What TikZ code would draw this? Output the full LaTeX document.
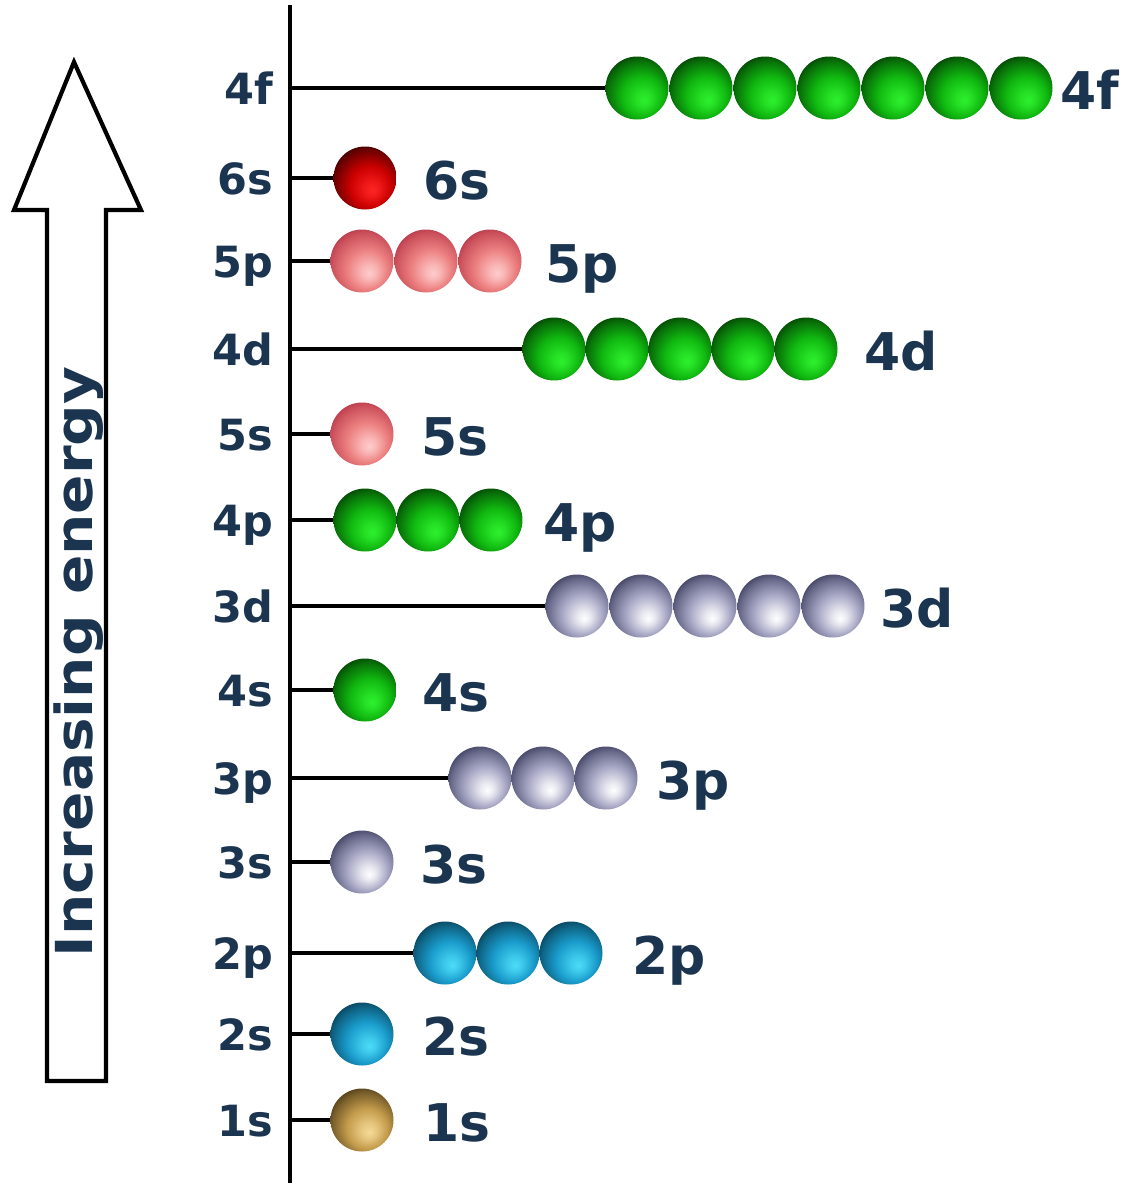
\documentclass[tikz,border=0pt]{standalone}
\usepackage{fontspec}
\setmainfont{DejaVu Sans}
\newfontfamily\vfont[FakeStretch=1.14]{DejaVu Sans}
\definecolor{txt}{HTML}{1B3550}
\definecolor{sphhi}{rgb}{1,1,1}
\definecolor{sphmid}{rgb}{0.5,0.5,0.5}
\definecolor{sphlo}{rgb}{0,0,0}
\pgfdeclareradialshading[sphhi,sphmid,sphlo]{orb}{\pgfqpoint{6bp}{-10bp}}{color(0bp)=(sphhi); color(6bp)=(sphhi!70!sphmid); color(16bp)=(sphmid); color(26bp)=(sphmid!50!sphlo); color(34bp)=(sphlo); color(50bp)=(sphlo)}
\tikzset{
  orbball/.style n args={3}{circle, inner sep=0pt, minimum size=63pt, shading=orb,
    /utils/exec={\definecolor{sphhi}{HTML}{#1}\definecolor{sphmid}{HTML}{#2}\definecolor{sphlo}{HTML}{#3}}},
  orbG/.style={orbball={2EF02E}{10B810}{012C01}},
  orbR/.style={orbball={FF2424}{CC0000}{200000}},
  orbP/.style={orbball={FFCCCC}{EC8080}{B02A3E}},
  orbS/.style={orbball={FFFFFF}{A8A8C6}{2A2A4E}},
  orbC/.style={orbball={4CDCF8}{1A9CCC}{042E40}},
  orbY/.style={orbball={F6DA96}{C49C4C}{36280C}},
  conn/.style={draw=black, line width=3.2pt},
  leftlab/.style={inner sep=0pt, text=txt, font=\fontsize{43}{43}\selectfont\bfseries},
  rightlab/.style={inner sep=0pt, text=txt, font=\fontsize{52}{52}\selectfont\bfseries},
  vlab/.style={inner sep=0pt, text=txt, font=\vfont\fontsize{51}{51}\selectfont\bfseries},
}
\newcommand\orbrow[7]{%
  \node[leftlab, anchor=base east] (L#1) at (273,#2+16) {#1};
  \coordinate (A#1) at (290,#2);
  \foreach \k in {1,...,#3} {\node[#6] (B#1-\k) at ({#4+(\k-1)*#5},#2) {};}
  \draw[conn] (A#1) -- (B#1-1.west);
  \node[rightlab, anchor=base west] (R#1) at (#7,#2+21) {#1};
}
\begin{document}
\begin{tikzpicture}[x=1pt,y=-1pt]
\useasboundingbox[fill=white] (0,0) rectangle (1147,1200);
% energy arrow
\draw[line width=4.2pt, line join=miter, fill=white] (47,1081) -- (47,210) -- (14,210) -- (74,62) -- (141,210) -- (106,210) -- (106,1081) -- cycle;
\node[vlab, rotate=90, anchor=base] (energy) at (92,662) {Increasing energy};
% axis
\coordinate (axtop) at (290,5);
\coordinate (axbot) at (290,1183);
\draw[conn] (axtop) -- (axbot);
% rows
\orbrow{4f}{88}{7}{637}{64}{orbG}{1060}
\orbrow{6s}{178}{1}{365}{64}{orbR}{423}
\orbrow{5p}{261}{3}{362}{64}{orbP}{545}
\orbrow{4d}{349}{5}{554}{63}{orbG}{864}
\orbrow{5s}{434}{1}{362}{64}{orbP}{421}
\orbrow{4p}{520}{3}{365}{63}{orbG}{543}
\orbrow{3d}{606}{5}{577}{64}{orbS}{880}
\orbrow{4s}{690}{1}{365}{64}{orbG}{422}
\orbrow{3p}{778}{3}{480}{63}{orbS}{656}
\orbrow{3s}{862}{1}{362}{64}{orbS}{420}
\orbrow{2p}{953}{3}{445}{63}{orbC}{632}
\orbrow{2s}{1034}{1}{362}{64}{orbC}{422}
\orbrow{1s}{1120}{1}{362}{64}{orbY}{423}
\end{tikzpicture}
\end{document}
